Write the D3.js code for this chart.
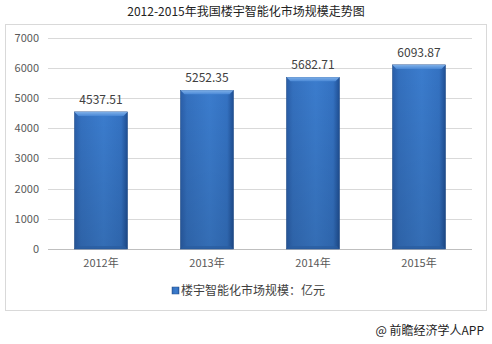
<!DOCTYPE html>
<html>
<head>
<meta charset="utf-8">
<script src="https://cdn.jsdelivr.net/npm/d3@7"></script>
<style>
  body { margin: 0; background: #fff; }
  svg { display: block; font-family: "Noto Sans CJK SC", "Noto Sans", sans-serif; }
</style>
</head>
<body>
<div id="chart"></div>
<script>
var years = ['2012年', '2013年', '2014年', '2015年'];
var values = [4537.51, 5252.35, 5682.71, 6093.87];
var yTicks = [0, 1000, 2000, 3000, 4000, 5000, 6000, 7000];
var seriesName = '楼宇智能化市场规模：亿元';

var width = 492, height = 344;
var svg = d3.select('#chart').append('svg')
  .attr('width', width)
  .attr('height', height);

// gradients for the bevelled bars
var defs = svg.append('defs');
var g1 = defs.append('linearGradient').attr('id', 'barFill')
  .attr('x1', '0').attr('x2', '1').attr('y1', '0').attr('y2', '0');
g1.append('stop').attr('offset', '0%').attr('stop-color', '#2a5ea8');
g1.append('stop').attr('offset', '12%').attr('stop-color', '#3470be');
g1.append('stop').attr('offset', '55%').attr('stop-color', '#3b7ccd');
g1.append('stop').attr('offset', '88%').attr('stop-color', '#3472c2');
g1.append('stop').attr('offset', '100%').attr('stop-color', '#1f4f94');
var g2 = defs.append('linearGradient').attr('id', 'barTop')
  .attr('x1', '0').attr('x2', '0').attr('y1', '0').attr('y2', '1');
g2.append('stop').attr('offset', '0%').attr('stop-color', '#7fb0e8');
g2.append('stop').attr('offset', '100%').attr('stop-color', '#4a88d6');
var g3 = defs.append('linearGradient').attr('id', 'barShade')
  .attr('x1', '0').attr('x2', '0').attr('y1', '0').attr('y2', '1');
g3.append('stop').attr('offset', '0%').attr('stop-color', '#000').attr('stop-opacity', 0);
g3.append('stop').attr('offset', '100%').attr('stop-color', '#000').attr('stop-opacity', 0.12);

// title
svg.append('text')
  .attr('x', 246).attr('y', 16)
  .attr('text-anchor', 'middle')
  .style('font-size', '12px')
  .style('fill', '#222')
  .text('2012-2015年我国楼宇智能化市场规模走势图');

// frame
svg.append('rect')
  .attr('x', 5.5).attr('y', 24.5)
  .attr('width', 481).attr('height', 286)
  .attr('fill', 'none')
  .attr('stroke', '#d9d9d9');

var x = d3.scaleBand().domain(years).range([48, 472]).paddingInner(0.5).paddingOuter(0.25);
var y = d3.scaleLinear().domain([0, 7000]).range([249, 37.5]);

// grid lines
svg.append('g').selectAll('line')
  .data(yTicks)
  .enter().append('line')
  .attr('x1', 48).attr('x2', 472)
  .attr('y1', function(d) { return Math.round(y(d)) + 0.5; })
  .attr('y2', function(d) { return Math.round(y(d)) + 0.5; })
  .attr('stroke', function(d) { return d === 0 ? '#bfbfbf' : '#d9d9d9'; });

// y axis labels
var yAxis = d3.axisLeft(y).tickValues(yTicks).tickFormat(d3.format('d')).tickSize(0).tickPadding(0);
var ya = svg.append('g').attr('transform', 'translate(39,0)').call(yAxis);
ya.select('.domain').remove();
ya.selectAll('text').style('font-size', '11px').style('fill', '#595959')
  .style('font-family', '"Noto Sans CJK SC", sans-serif');

// x axis labels
var xAxis = d3.axisBottom(x).tickSize(0).tickPadding(0);
var xa = svg.append('g').attr('transform', 'translate(0,259)').call(xAxis);
xa.select('.domain').remove();
xa.selectAll('text').style('font-size', '11px').style('fill', '#595959')
  .style('font-family', '"Noto Sans CJK SC", sans-serif');

// bars
var bars = svg.append('g').selectAll('g')
  .data(values)
  .enter().append('g');

bars.append('rect')
  .attr('x', function(d, i) { return x(years[i]); })
  .attr('y', function(d) { return y(d); })
  .attr('width', x.bandwidth())
  .attr('height', function(d) { return y(0) - y(d); })
  .attr('fill', 'url(#barFill)')
  .attr('stroke', '#244f8c')
  .attr('stroke-width', 0.6);

// soft darkening toward the bottom
bars.append('rect')
  .attr('x', function(d, i) { return x(years[i]); })
  .attr('y', function(d) { return y(d); })
  .attr('width', x.bandwidth())
  .attr('height', function(d) { return y(0) - y(d); })
  .attr('fill', 'url(#barShade)');

// top bevel
bars.append('path')
  .attr('d', function(d, i) {
    var x0 = x(years[i]), x1 = x0 + x.bandwidth(), t = y(d);
    return 'M' + x0 + ',' + t + 'L' + x1 + ',' + t +
      'L' + (x1 - 4) + ',' + (t + 4) + 'L' + (x0 + 4) + ',' + (t + 4) + 'Z';
  })
  .attr('fill', 'url(#barTop)');

// bottom edge
bars.append('path')
  .attr('d', function(d, i) {
    var x0 = x(years[i]), x1 = x0 + x.bandwidth(), b = y(0);
    return 'M' + x0 + ',' + b + 'L' + x1 + ',' + b +
      'L' + (x1 - 3) + ',' + (b - 3) + 'L' + (x0 + 3) + ',' + (b - 3) + 'Z';
  })
  .attr('fill', '#2a5ca0')
  .attr('opacity', 0.7);

// value labels
bars.append('text')
  .attr('x', function(d, i) { return x(years[i]) + x.bandwidth() / 2; })
  .attr('y', function(d) { return y(d) - 8; })
  .attr('text-anchor', 'middle')
  .style('font-size', '12px')
  .style('fill', '#404040')
  .text(function(d) { return d3.format('.2f')(d); });

// legend
var lg = svg.append('g').attr('transform', 'translate(172,287)');
lg.append('rect').attr('width', 7).attr('height', 7)
  .attr('fill', 'url(#barFill)').attr('stroke', '#244f8c').attr('stroke-width', 0.5);
lg.append('text').attr('x', 9).attr('y', 7.5)
  .style('font-size', '12px').style('fill', '#404040')
  .text(seriesName);

// source
svg.append('text')
  .attr('x', 484).attr('y', 335)
  .attr('text-anchor', 'end')
  .style('font-size', '12px')
  .style('fill', '#222')
  .text('@ 前瞻经济学人APP');
</script>
</body>
</html>
